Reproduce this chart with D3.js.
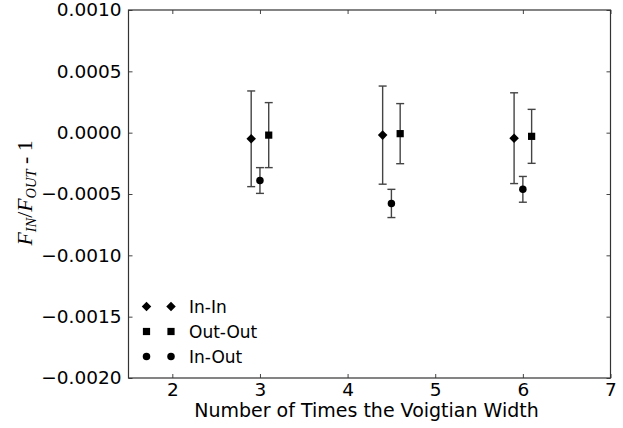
<!DOCTYPE html>
<html><head><meta charset="utf-8">
<script src="https://cdn.jsdelivr.net/npm/d3@7"></script>
<style>body{margin:0;background:#fff;} svg{display:block;font-family:"DejaVu Sans",sans-serif;}</style>
</head><body><svg id="c" width="623" height="428"></svg>
<script>
const xTicks = [2, 3, 4, 5, 6, 7];
const yTicks = [0.0010, 0.0005, 0.0000, -0.0005, -0.0010, -0.0015, -0.0020];
const inInX = [2.9, 4.4, 5.9];
const inInY = [-0.00005, -0.00002, -0.000045];
const inInErr = [0.00039, 0.0004, 0.00037];
const outOutX = [3.1, 4.6, 6.1];
const outOutY = [-0.00002, -0.000008, -0.00003];
const outOutErr = [0.000265, 0.000245, 0.00022];
const inOutX = [3.0, 4.5, 6.0];
const inOutY = [-0.00039, -0.000577, -0.000462];
const inOutErr = [0.000105, 0.000115, 0.000105];
const seriesNames = ["In-In", "Out-Out", "In-Out"];

const svg = d3.select("#c");
const L = 128.5, R = 610.5, T = 10, B = 378;
const x = d3.scaleLinear().domain([1.5, 7]).range([L, R]);
const y = d3.scaleLinear().domain([-0.002, 0.001]).range([B, T]);

const fmt = v => (v < 0 ? "\u2212" : "") + Math.abs(v).toFixed(4);

const gx = svg.append("g").attr("transform", `translate(0,${B})`)
  .call(d3.axisBottom(x).tickValues(xTicks).tickSize(-4).tickPadding(5).tickFormat(d3.format("d")));
const gxTop = svg.append("g").attr("transform", `translate(0,${T})`)
  .call(d3.axisTop(x).tickValues(xTicks).tickSize(-4).tickFormat(""));
const gy = svg.append("g").attr("transform", `translate(${L},0)`)
  .call(d3.axisLeft(y).tickValues(yTicks).tickSize(-4).tickPadding(7).tickFormat(fmt));
const gyR = svg.append("g").attr("transform", `translate(${R},0)`)
  .call(d3.axisRight(y).tickValues(yTicks).tickSize(-4).tickFormat(""));
[gx, gxTop, gy, gyR].forEach(g => {
  g.attr("font-family", null).attr("font-size", null);
  g.select(".domain").remove();
  g.selectAll("line").attr("stroke", "#444").attr("stroke-width", 1);
  g.selectAll("text").attr("fill", "#000").style("font-size", "18.5px").style("font-family", "'DejaVu Sans'");
});
svg.append("rect").attr("x", L).attr("y", T).attr("width", R - L).attr("height", B - T)
  .attr("fill", "none").attr("stroke", "#333").attr("stroke-width", 1.2);

function errBars(xs, ys, es) {
  const g = svg.append("g").attr("stroke", "#444").attr("stroke-width", 1.4);
  xs.forEach((xv, i) => {
    const cx = x(xv), y1 = y(ys[i] + es[i]), y2 = y(ys[i] - es[i]);
    g.append("line").attr("x1", cx).attr("x2", cx).attr("y1", y1).attr("y2", y2);
    g.append("line").attr("x1", cx - 4).attr("x2", cx + 4).attr("y1", y1).attr("y2", y1);
    g.append("line").attr("x1", cx - 4).attr("x2", cx + 4).attr("y1", y2).attr("y2", y2);
  });
}
errBars(inInX, inInY, inInErr);
errBars(outOutX, outOutY, outOutErr);
errBars(inOutX, inOutY, inOutErr);

const diamond = d3.symbol().type(d3.symbolDiamond2).size(58);
const square = d3.symbol().type(d3.symbolSquare).size(52);
const circle = d3.symbol().type(d3.symbolCircle).size(44);

function marks(xs, ys, sym) {
  svg.append("g").selectAll("path").data(xs).join("path")
    .attr("d", sym).attr("fill", "#000")
    .attr("transform", (d, i) => `translate(${x(d)},${y(ys[i])})`);
}
marks(inInX, inInY, diamond);
marks(outOutX, outOutY, square);
marks(inOutX, inOutY, circle);

const syms = [diamond, square, circle];
const leg = svg.append("g");
seriesNames.forEach((name, i) => {
  const ly = 306.5 + i * 25;
  [146.5, 171].forEach(lx => leg.append("path").attr("d", syms[i]).attr("fill", "#000")
    .attr("transform", `translate(${lx},${ly})`));
  leg.append("text").attr("x", 189).attr("y", ly).attr("dy", "0.36em")
    .style("font-size", "17px").text(name);
});

svg.append("text").attr("x", (L + R) / 2 - 3).attr("y", 417).attr("text-anchor", "middle")
  .style("font-size", "19px").text("Number of Times the Voigtian Width");

const serif = "'Liberation Serif', serif";
const yl = svg.append("text").attr("transform", "translate(31.5,193) rotate(-90)")
  .attr("text-anchor", "middle").style("font-size", "21.7px").style("font-family", serif);
yl.append("tspan").attr("font-style", "italic").text("F");
yl.append("tspan").attr("font-style", "italic").style("font-size", "14.5px").attr("dy", 4).text("IN");
yl.append("tspan").attr("dy", -4).text("/");
yl.append("tspan").attr("font-style", "italic").text("F");
yl.append("tspan").attr("font-style", "italic").style("font-size", "14.5px").attr("dy", 4).text("OUT");
yl.append("tspan").attr("dy", -4).text(" - 1");
</script></body></html>
